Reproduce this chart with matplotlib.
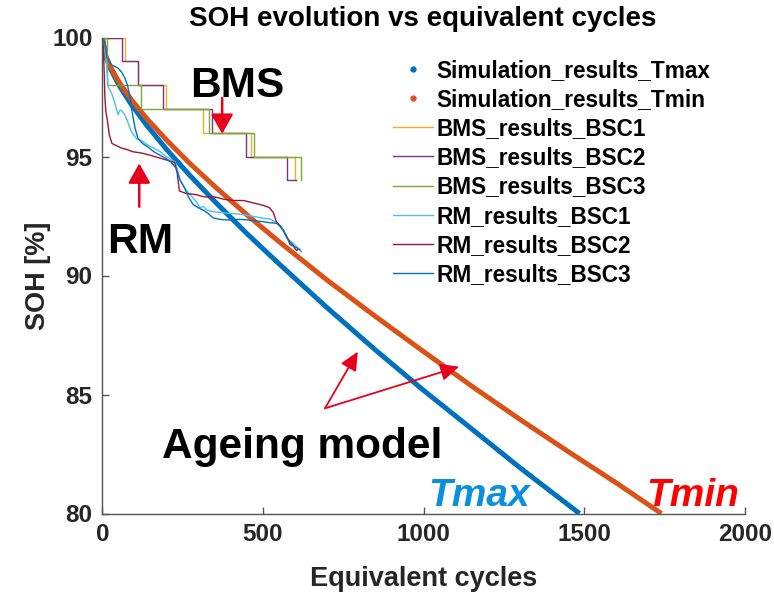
import matplotlib
matplotlib.use("Agg")
import matplotlib.pyplot as plt
from matplotlib.lines import Line2D

plt.rcParams['font.family'] = ['Liberation Sans', 'DejaVu Sans']
plt.rcParams['font.weight'] = 'bold'

# ---------------- datos ----------------
# Simulacion (modelo de envejecimiento)
tmax_x = [0, 10, 25, 50, 90, 140, 200, 270, 350, 450, 550, 700, 850, 1000, 1150, 1300, 1485]
tmax_y = [100, 99.22, 98.70, 98.04, 97.19, 96.28, 95.30, 94.24, 93.11, 91.76, 90.49,
          88.64, 86.87, 85.17, 83.55, 81.92, 80.0]

tmin_x = [0, 10, 25, 50, 90, 140, 200, 270, 350, 450, 550, 700, 850, 1000, 1150, 1300, 1450, 1600, 1740]
tmin_y = [100, 99.26, 98.77, 98.17, 97.39, 96.57, 95.69, 94.74, 93.74, 92.55, 91.42,
          89.80, 88.28, 86.80, 85.35, 83.95, 82.6, 81.28, 80.0]

# BMS (escalones)
bms1_x = [0, 71, 110, 198, 314, 464, 600, 603]
bms1_y = [100, 99, 98, 97, 96, 95, 94, 94]
bms2_x = [0, 62, 110, 190, 341, 446, 575, 603]
bms2_y = [100, 99, 98, 97, 96, 95, 94, 94]
bms3_x = [0, 14, 121, 331, 472, 618]
bms3_y = [100, 98, 97, 96, 95, 94]

# RM
rm1_x = [0, 5, 12, 18, 28, 40, 49, 55, 62, 70, 78, 90, 106, 121, 140, 163, 180, 194, 210,
         227, 235, 242, 260, 283, 295, 304, 315, 325, 345, 370, 397, 425, 449, 475, 501,
         520, 532, 545, 553, 564, 574, 585, 594, 605, 612, 620]
rm1_y = [100, 99.6, 99.1, 97.9, 97.7, 97.2, 96.75, 96.95, 96.9, 96.75, 96.5, 96.05, 95.75,
         95.68, 95.5, 95.33, 95.2, 95.05, 94.9, 94.77, 94.4, 94.0, 93.6, 93.25, 93.05, 92.85,
         92.9, 92.75, 92.68, 92.65, 92.61, 92.58, 92.54, 92.47, 92.4, 92.38, 92.3, 92.2,
         92.05, 91.85, 91.56, 91.45, 91.35, 91.2, 91.1, 91.0]

rm2_x = [0, 3, 6, 8, 11, 16, 22, 30, 45, 60, 75, 95, 120, 150, 175, 200, 225, 233, 240,
         260, 290, 320, 350, 380, 410, 440, 470, 500, 520, 532, 542, 553, 563, 575, 584,
         592, 600, 605, 610]
rm2_y = [100, 99.6, 98.5, 97.5, 96.9, 96.5, 95.9, 95.55, 95.45, 95.35, 95.3, 95.2, 95.15,
         95.05, 94.95, 94.85, 94.75, 94.3, 93.55, 93.45, 93.4, 93.3, 93.3, 93.2, 93.15, 93.15,
         93.05, 92.95, 92.85, 92.65, 92.25, 92.1, 91.9, 91.6, 91.4, 91.3, 91.12, 91.05, 91.12]

rm3_x = [0, 8, 14, 18, 28, 40, 50, 60, 70, 78, 85, 90, 95, 102, 111, 125, 142, 160, 180,
         200, 215, 230, 242, 255, 268, 283, 298, 314, 330, 345, 370, 397, 425, 449, 475,
         501, 520, 543, 555, 564, 574, 584, 592, 600, 608, 615]
rm3_y = [100, 99.76, 99.19, 99.1, 98.85, 98.78, 98.7, 98.55, 98.3, 98.0, 97.6, 97.1, 96.7,
         96.2, 95.75, 95.55, 95.4, 95.2, 95.05, 94.9, 94.75, 94.5, 94.0, 93.7, 93.3, 92.98,
         92.85, 92.75, 92.6, 92.42, 92.35, 92.33, 92.36, 92.34, 92.3, 92.26, 92.22, 92.19,
         92.05, 91.9, 91.63, 91.3, 91.25, 91.2, 91.15, 91.07]

xticks = [0, 500, 1000, 1500, 2000]
yticks = [80, 85, 90, 95, 100]

# colores estilo MATLAB
c_blue = '#0072BD'
c_orange = '#D95319'
c_yellow = '#EDB120'
c_purple = '#7E2F8E'
c_green = '#77AC30'
c_cyan = '#4DBEEE'
c_red = '#A2142F'
c_arrow = '#E8001C'

# ---------------- figura ----------------
fig = plt.figure(figsize=(7.74, 5.93), dpi=100)
ax = fig.add_axes([102.3 / 774, 1 - 513.5 / 593, (745 - 102.3) / 774, (513.5 - 37.5) / 593])

ax.plot(tmax_x, tmax_y, color=c_blue, lw=3.6, solid_capstyle='butt')
ax.plot(tmin_x, tmin_y, color=c_orange, lw=3.6, solid_capstyle='butt')
ax.plot(bms1_x, bms1_y, color=c_yellow, lw=1.0, drawstyle='steps-post')
ax.plot(bms2_x, bms2_y, color=c_purple, lw=1.0, drawstyle='steps-post')
ax.plot(bms3_x, bms3_y, color=c_green, lw=1.0, drawstyle='steps-post')
ax.plot(rm1_x, rm1_y, color=c_cyan, lw=1.0)
ax.plot(rm2_x, rm2_y, color=c_red, lw=1.0)
ax.plot(rm3_x, rm3_y, color=c_blue, lw=1.0)

ax.set_xlim(0, 2000)
ax.set_ylim(80, 100)
ax.set_xticks(xticks)
ax.set_yticks(yticks)
for s in ['top', 'right']:
    ax.spines[s].set_visible(False)
for s in ['left', 'bottom']:
    ax.spines[s].set_color('#555555')
    ax.spines[s].set_linewidth(1.0)
ax.tick_params(direction='in', length=5, width=1.0, color='#555555',
               labelsize=17.5, labelcolor='#262626', pad=7)

ax.set_xlabel('Equivalent cycles', fontsize=19.5, fontweight='bold', color='#262626', labelpad=14)
ax.set_ylabel('SOH [%]', fontsize=19.5, fontweight='bold', color='#262626', labelpad=1)
# titulo centrado sobre los ejes (como MATLAB)
fig.text(423 / 774, 1 - 19 / 593, 'SOH evolution vs equivalent cycles', ha='center', va='center',
         fontsize=20, fontweight='bold', color='black')

# leyenda
handles = [
    Line2D([], [], color=c_blue, marker='.', ls='none', markersize=7),
    Line2D([], [], color=c_orange, marker='.', ls='none', markersize=7),
    Line2D([], [], color=c_yellow, lw=1.0),
    Line2D([], [], color=c_purple, lw=1.0),
    Line2D([], [], color=c_green, lw=1.0),
    Line2D([], [], color=c_cyan, lw=1.0),
    Line2D([], [], color=c_red, lw=1.0),
    Line2D([], [], color=c_blue, lw=1.0),
]
labels = ['Simulation_results_Tmax', 'Simulation_results_Tmin', 'BMS_results_BSC1',
          'BMS_results_BSC2', 'BMS_results_BSC3', 'RM_results_BSC1', 'RM_results_BSC2',
          'RM_results_BSC3']
ax.legend(handles, labels, loc='upper left', bbox_to_anchor=(393 / 774, 1 - 59 / 593),
          bbox_transform=fig.transFigure, frameon=False, borderpad=0, borderaxespad=0,
          handlelength=1.75, handletextpad=0.18, labelspacing=0.27, numpoints=1,
          prop={'size': 16.3, 'weight': 'bold'})

# anotaciones
ax.text(273, 97.51, 'BMS', fontsize=30.5, fontweight='bold', color='black', ha='left', va='baseline')
ax.text(14, 90.95, 'RM', fontsize=30.5, fontweight='bold', color='black', ha='left', va='baseline')
ax.text(186, 82.32, 'Ageing model', fontsize=30.5, fontweight='bold', color='black',
        ha='left', va='baseline')
ax.text(1014, 80.31, 'Tmax', fontsize=28, fontweight='bold', style='italic', color='#0A8FDC',
        ha='left', va='baseline')
ax.text(1694, 80.31, 'Tmin', fontsize=28, fontweight='bold', style='italic', color='#FF0000',
        ha='left', va='baseline')

big = dict(arrowstyle='-|>,head_length=0.8,head_width=0.45', color=c_arrow, lw=1.8,
           mutation_scale=15, shrinkA=0, shrinkB=0)
ax.annotate('', xy=(373, 95.95), xytext=(373, 97.46), arrowprops=big)
ax.annotate('', xy=(115, 94.71), xytext=(115, 92.89), arrowprops=big)

thin = dict(arrowstyle='-|>,head_length=0.75,head_width=0.35', color=c_arrow, lw=1.3,
            mutation_scale=15, shrinkA=0, shrinkB=0)
ax.annotate('', xy=(795, 86.80), xytext=(693, 84.42), arrowprops=thin)
ax.annotate('', xy=(1110, 86.17), xytext=(693, 84.42), arrowprops=thin)

fig.savefig('out.png', dpi=100)
